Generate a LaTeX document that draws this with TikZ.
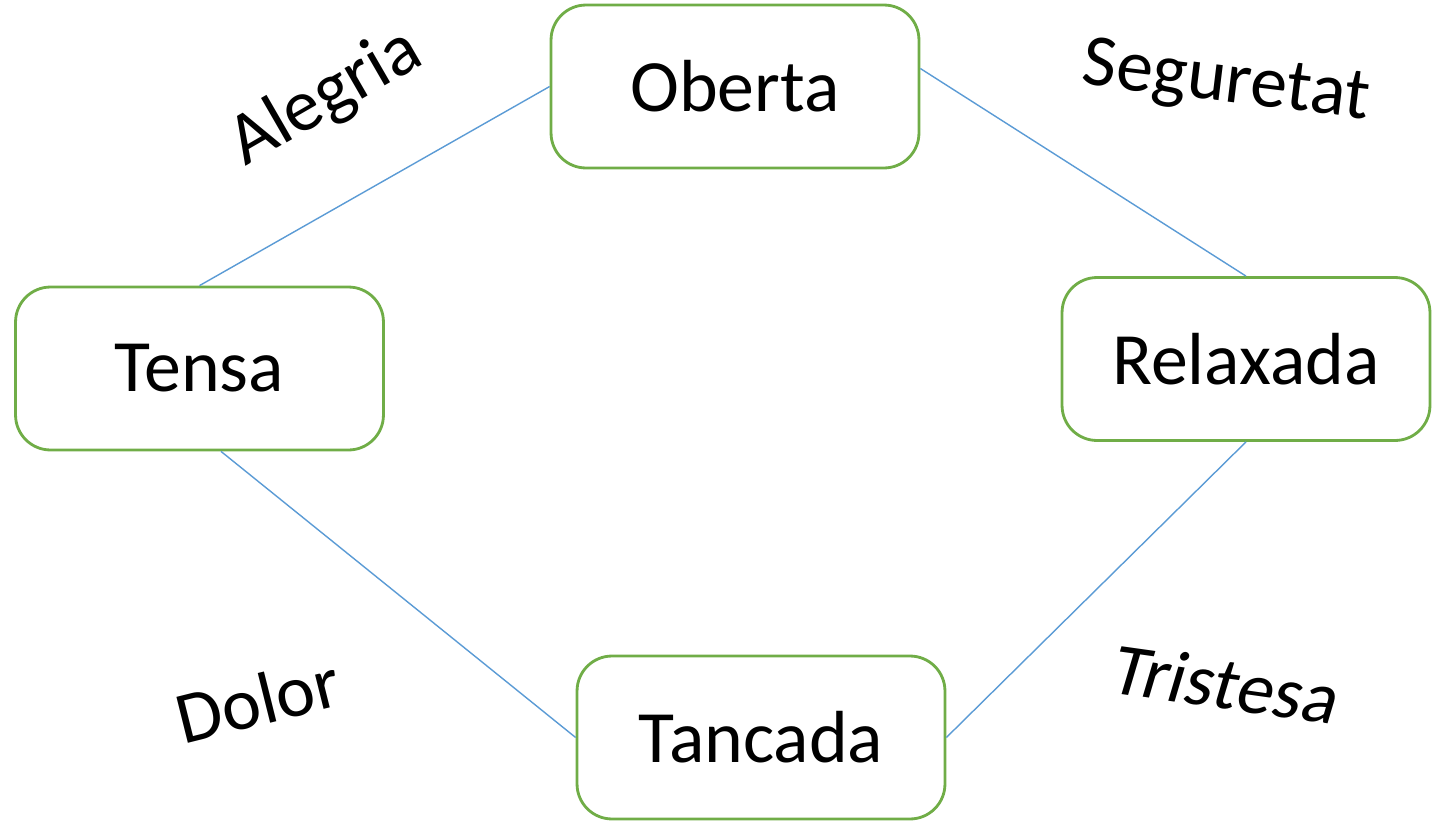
\documentclass[tikz,border=0pt]{standalone}
\usepackage{fontspec}
\setmainfont{Carlito}
\usepackage{tikz}
\definecolor{boxgreen}{RGB}{112,173,71}
\definecolor{linkblue}{RGB}{91,155,213}
\tikzset{
  state/.style={draw=boxgreen, line width=1.6pt, rounded corners=0.7cm,
    minimum width=7.36cm, minimum height=3.26cm, font=\fontsize{42}{48}\selectfont},
  mood/.style={font=\fontsize{42}{48}\selectfont},
  link/.style={draw=linkblue, line width=0.8pt}
}

\begin{document}
\begin{tikzpicture}[x=0.02cm, y=-0.02cm]
\useasboundingbox (0,0) rectangle (1434,822);
% The four states of the cycle
\node[state] (oberta) at (735,86.5) {Oberta};
\node[state] (tensa) at (199.5,368.5) {Tensa};
\node[state] (relaxada) at (1246,359) {Relaxada};
\node[state] (tancada) at (761,737.5) {Tancada};

% Links between the states
\draw[link] (oberta.west) -- (tensa.north);
\draw[link] ([yshift=0.36cm]oberta.east) -- (relaxada.north);
\draw[link] (relaxada.south) -- (tancada.east);
\draw[link] ([xshift=0.43cm]tensa.south) -- (tancada.west);

% Feelings along each link
\node[mood, rotate=30] (alegria) at (326,98) {Alegria};
\node[mood, rotate=-7] (seguretat) at (1226,84) {Seguretat};
\node[mood, rotate=14] (dolor) at (258,700) {Dolor};
\node[mood, rotate=-8, xslant=0.15] (tristesa) at (1227,684) {Tristesa};
\end{tikzpicture}
\end{document}
